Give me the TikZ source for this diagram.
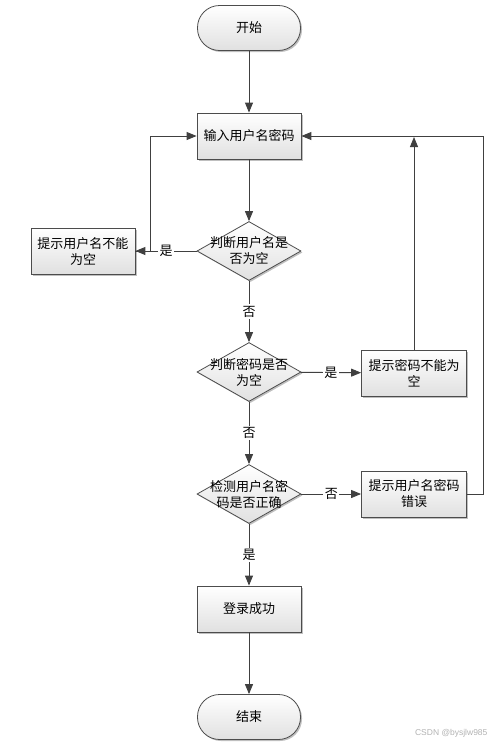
\documentclass[tikz,border=0pt]{standalone}
\usepackage{fontspec}
\setmainfont{Noto Sans CJK SC}
\newfontfamily\wmfont{Liberation Sans}
\usetikzlibrary{arrows.meta,shadows,shapes.geometric}
\begin{document}
\begin{tikzpicture}[x=1pt,y=-1pt,
 every node/.style={font=\fontsize{13}{16}\selectfont, text=black},
 line/.style={draw=black!75, line width=0.9pt},
 arr/.style={line, -{Triangle[length=10pt,width=8pt]}},
 boxfill/.style={top color=white, bottom color=black!12, draw=black!70, line width=0.8pt,
   drop shadow={shadow xshift=1.5pt,shadow yshift=-1.5pt,opacity=0.25,fill=black}},
 procbox/.style={boxfill, rectangle, minimum width=104pt, minimum height=46pt, align=center, inner sep=1pt},
 term/.style={boxfill, rectangle, rounded corners=22pt, minimum width=103pt, minimum height=45pt},
 dec/.style={boxfill, diamond, minimum width=104pt, minimum height=59pt, inner sep=0pt},
 dectext/.style={align=center},
 lab/.style={fill=white, inner sep=1.5pt}
]
\useasboundingbox (0,0) rectangle (496,745);

\node[term] (start) at (249,28) {开始};
\node[procbox] (input) at (249,136) {输入用户名密码};
\node[dec] (d1) at (249,251) {};
\node[dectext] (d1t) at (d1) {判断用户名是\\否为空};
\node[procbox] (nameempty) at (83,251) {提示用户名不能\\为空};
\node[dec] (d2) at (249,372) {};
\node[dectext] (d2t) at (d2) {判断密码是否\\为空};
\node[procbox, minimum width=105pt] (pwdempty) at (414,373) {提示密码不能为\\空};
\node[dec] (d3) at (249,494) {};
\node[dectext] (d3t) at (d3) {检测用户名密\\码是否正确};
\node[procbox, minimum width=105pt] (wrong) at (414,494) {提示用户名密码\\错误};
\node[procbox] (ok) at (249,609) {登录成功};
\node[term] (end) at (249,717) {结束};

\coordinate (lj) at (150,251);
\coordinate (pj) at (414,137);
\coordinate (rj) at (483,494);

\draw[arr] (start) -- (input);
\draw[arr] (input) -- (d1);
\draw[arr] (nameempty.east) -- (lj) |- (input.west);
\draw[arr] (d1) -- node[lab]{是} (nameempty);
\draw[arr] (d1) -- node[lab]{否} (d2);
\draw[arr] (d2) -- node[lab]{是} (pwdempty);
\draw[arr] (pwdempty) -- (pj);
\draw[arr] (wrong.east) -- (rj) |- (input.east);
\draw[arr] (d2) -- node[lab]{否} (d3);
\draw[arr] (d3) -- node[lab]{否} (wrong);
\draw[arr] (d3) -- node[lab]{是} (ok);
\draw[arr] (ok) -- (end);

\node[font=\wmfont\fontsize{8.5}{9}\selectfont, text=black!30, anchor=east] (wm) at (491,733) {CSDN @bysjlw985};
\end{tikzpicture}
\end{document}
